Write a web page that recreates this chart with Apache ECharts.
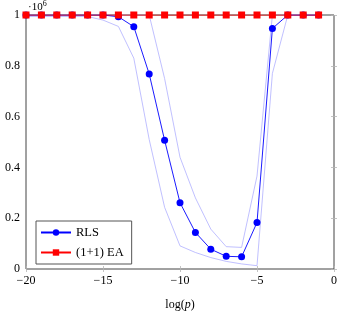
<!DOCTYPE html>
<html>
<head>
<meta charset="utf-8">
<script src="https://cdn.jsdelivr.net/npm/echarts@6/dist/echarts.min.js"></script>
<style>
  html, body { margin: 0; padding: 0; background: #fff; }
  #chart { width: 342px; height: 316px; }
</style>
</head>
<body>
<div id="chart"></div>
<script>
// log(p) values, -20 .. -1
const logP = [-20, -19, -18, -17, -16, -15, -14, -13, -12, -11, -10, -9, -8, -7, -6, -5, -4, -3, -2, -1];
// RLS mean (in units of 10^6)
const rlsMean = [1, 1, 1, 1, 1, 1, 0.993, 0.954, 0.768, 0.507, 0.261, 0.144, 0.078, 0.05, 0.048, 0.183, 0.947, 1, 1, 1];
// RLS band (upper / lower)
const rlsUpper = [1, 1, 1, 1, 1, 1, 1, 1, 1, 0.75, 0.44, 0.28, 0.157, 0.088, 0.085, 0.366, 1, 1, 1, 1];
const rlsLower = [0.994, 0.994, 0.994, 0.994, 0.994, 0.98, 0.955, 0.83, 0.51, 0.243, 0.091, 0.065, 0.045, 0.03, 0.02, 0.013, 0.77, 1, 1, 1];
// (1+1) EA
const eaMean = [1, 1, 1, 1, 1, 1, 1, 1, 1, 1, 1, 1, 1, 1, 1, 1, 1, 1, 1, 1];
const yTicks = [0, 0.2, 0.4, 0.6, 0.8, 1];

const font = 'Liberation Serif';
const pair = (ys) => logP.map((x, i) => [x, ys[i]]);

const chart = echarts.init(document.getElementById('chart'));

const tickStyle = { show: true, inside: true, length: 3, lineStyle: { color: '#b5b5b5', width: 0.8 } };

const option = {
  animation: false,
  textStyle: { fontFamily: font },
  grid: { left: 26, right: 8, top: 15, bottom: 46, show: true, borderColor: '#444', borderWidth: 1 },
  xAxis: [{
    type: 'value', min: -20, max: 0, interval: 5,
    name: 'log({i|p})', nameLocation: 'middle', nameGap: 30,
    nameTextStyle: {
      fontFamily: font, fontSize: 12, color: '#000',
      rich: { i: { fontFamily: font, fontSize: 12, fontStyle: 'italic', color: '#000' } }
    },
    axisLine: { show: false },
    axisTick: tickStyle,
    splitLine: { show: false },
    axisLabel: {
      color: '#000', fontFamily: font, fontSize: 12, margin: 6,
      formatter: v => (v < 0 ? '\u2212' + Math.abs(v) : String(v))
    }
  }, {
    type: 'value', min: -20, max: 0, interval: 5, position: 'top',
    axisLine: { show: false }, axisTick: tickStyle, axisLabel: { show: false }, splitLine: { show: false }
  }],
  yAxis: [{
    type: 'value', min: 0, max: 1, interval: 0.2,
    axisLine: { show: false },
    axisTick: tickStyle,
    splitLine: { show: false },
    axisLabel: {
      color: '#000', fontFamily: font, fontSize: 12, margin: 6,
      formatter: v => (yTicks.includes(Math.round(v * 10) / 10) ? String(Math.round(v * 10) / 10) : '')
    }
  }, {
    type: 'value', min: 0, max: 1, interval: 0.2, position: 'right',
    axisLine: { show: false }, axisTick: tickStyle, axisLabel: { show: false }, splitLine: { show: false }
  }],
  legend: {
    data: ['RLS', '(1+1) EA'],
    orient: 'vertical',
    left: 36, top: 221,
    itemWidth: 30, itemHeight: 8, itemGap: 7,
    padding: [5, 8, 5, 4],
    borderColor: '#555', borderWidth: 1,
    backgroundColor: '#fff',
    textStyle: { fontFamily: font, fontSize: 12.5, color: '#000' }
  },
  graphic: [{
    type: 'text', left: 28, top: 0,
    style: {
      text: '\u00b710{s|6}', fontFamily: font, fontSize: 11, fill: '#000',
      rich: { s: { fontSize: 8, verticalAlign: 'top', padding: [0, 0, 6, 0], fontFamily: font } }
    }
  }],
  series: [{
    name: 'upper', type: 'line', data: pair(rlsUpper), symbol: 'none',
    lineStyle: { color: '#b0b0ff', width: 0.8 }, z: 1
  }, {
    name: 'lower', type: 'line', data: pair(rlsLower), symbol: 'none',
    lineStyle: { color: '#b0b0ff', width: 0.8 }, z: 1
  }, {
    name: 'RLS', type: 'line', data: pair(rlsMean),
    symbol: 'circle', symbolSize: 7,
    lineStyle: { color: '#0000ff', width: 0.9 },
    itemStyle: { color: '#0000ff' }, z: 2
  }, {
    name: '(1+1) EA', type: 'line', data: pair(eaMean),
    symbol: 'rect', symbolSize: 7,
    lineStyle: { color: '#ff0000', width: 0.9 },
    itemStyle: { color: '#ff0000' }, z: 3
  }]
};

chart.setOption(option);
</script>
</body>
</html>
